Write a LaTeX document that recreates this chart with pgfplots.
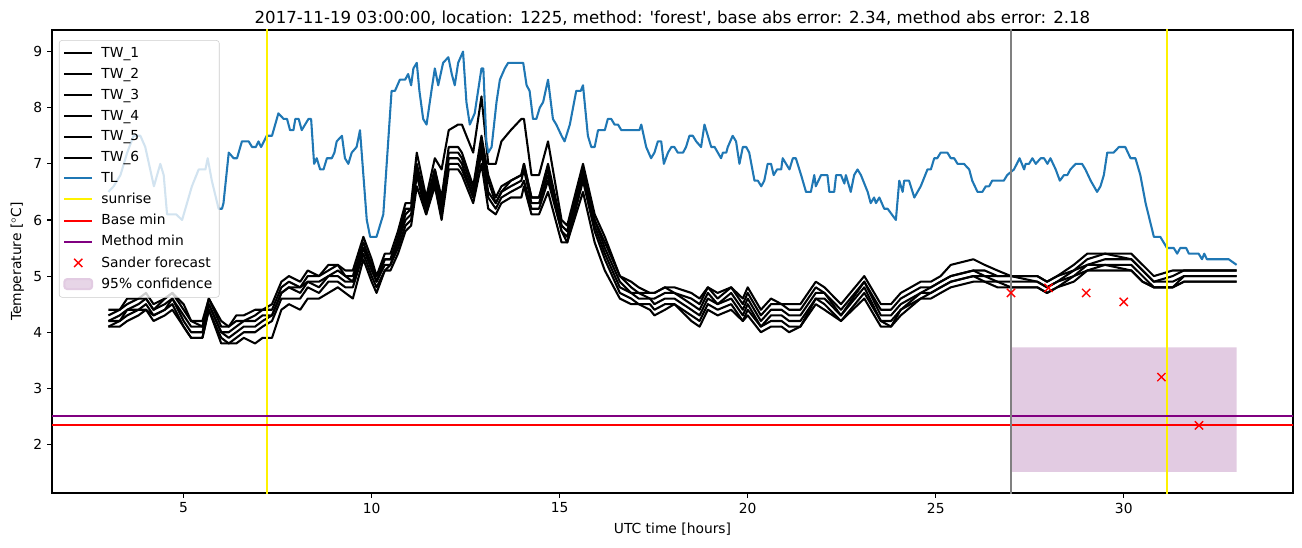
\documentclass[border=0pt]{standalone}
\usepackage{pgfplots}
\pgfplotsset{compat=1.18}
\usepackage{pgfplotstable}
\usepackage{fontspec}
\setmainfont{DejaVu Sans}[Ligatures=TeXOff]

\definecolor{tlblue}{HTML}{1F77B4}
\definecolor{mpurple}{HTML}{800080}
\definecolor{confcol}{RGB}{226,203,226}
\definecolor{legframe}{RGB}{204,204,204}

% air temperature
\pgfplotstableread{
x y
3.00 6.5
3.14 6.6
3.32 6.8
3.50 7.2
3.67 7.5
3.85 7.5
3.98 7.3
4.21 6.6
4.38 7.0
4.47 6.8
4.56 6.1
4.80 6.1
4.96 6.0
5.22 6.6
5.40 6.9
5.58 6.9
5.64 7.1
5.75 6.7
5.93 6.2
6.02 6.2
6.06 6.3
6.20 7.2
6.33 7.1
6.42 7.1
6.55 7.4
6.73 7.4
6.82 7.3
6.92 7.3
6.99 7.4
7.06 7.3
7.21 7.5
7.35 7.5
7.52 7.9
7.66 7.8
7.75 7.8
7.83 7.6
7.92 7.6
7.97 7.8
8.06 7.8
8.14 7.6
8.32 7.8
8.39 7.8
8.47 7.0
8.54 7.1
8.63 6.9
8.72 6.9
8.81 7.1
8.94 7.1
9.01 7.2
9.07 7.4
9.21 7.5
9.29 7.1
9.38 7.0
9.47 7.2
9.60 7.3
9.69 7.6
9.87 6.0
9.96 5.7
10.13 5.7
10.31 6.1
10.53 8.3
10.62 8.3
10.75 8.5
10.89 8.5
10.97 8.6
11.05 8.4
11.11 8.7
11.20 8.8
11.27 8.3
11.37 7.8
11.46 7.7
11.59 8.3
11.68 8.7
11.77 8.4
11.90 8.8
12.04 8.9
12.13 8.6
12.21 8.4
12.30 8.8
12.43 9.0
12.52 8.1
12.61 7.7
12.74 7.9
12.92 8.7
12.97 8.7
13.05 7.4
13.10 7.2
13.19 7.3
13.32 8.1
13.41 8.5
13.54 8.7
13.63 8.8
14.03 8.8
14.12 8.4
14.20 8.3
14.29 7.8
14.38 7.8
14.47 8.0
14.56 8.1
14.69 8.5
14.82 7.8
14.91 7.7
15.05 7.5
15.13 7.4
15.27 7.7
15.44 8.3
15.56 8.3
15.62 8.4
15.75 7.5
15.84 7.3
15.93 7.3
16.02 7.6
16.20 7.6
16.28 7.8
16.37 7.8
16.46 7.7
16.55 7.7
16.64 7.6
17.12 7.6
17.17 7.7
17.30 7.3
17.43 7.1
17.52 7.2
17.61 7.4
17.70 7.4
17.77 7.0
17.88 7.2
17.97 7.3
18.05 7.3
18.14 7.2
18.28 7.2
18.36 7.3
18.45 7.5
18.54 7.5
18.63 7.4
18.76 7.3
18.85 7.7
19.03 7.3
19.12 7.3
19.29 7.1
19.34 7.2
19.43 7.2
19.47 7.3
19.60 7.5
19.69 7.4
19.78 7.0
19.87 7.3
19.96 7.3
20.04 7.2
20.18 6.7
20.27 6.7
20.36 6.6
20.44 6.7
20.53 7.0
20.62 7.0
20.69 6.8
20.78 6.9
20.89 6.9
20.93 7.1
21.02 7.0
21.11 6.9
21.20 7.1
21.28 7.1
21.42 6.8
21.55 6.5
21.68 6.5
21.77 6.8
21.81 6.6
21.95 6.8
22.12 6.8
22.17 6.5
22.30 6.5
22.35 6.8
22.48 6.8
22.57 6.65
22.61 6.8
22.74 6.5
22.83 6.8
22.92 6.9
23.01 6.8
23.19 6.5
23.27 6.3
23.36 6.4
23.41 6.3
23.50 6.4
23.63 6.2
23.72 6.2
23.94 6.0
24.03 6.7
24.12 6.5
24.16 6.7
24.29 6.7
24.43 6.4
24.60 6.6
24.78 6.9
24.87 6.9
24.96 7.1
25.04 7.1
25.13 7.2
25.31 7.2
25.40 7.1
25.49 7.1
25.58 7.0
25.75 7.0
25.89 6.9
25.97 6.7
26.11 6.5
26.24 6.5
26.33 6.6
26.42 6.6
26.50 6.7
26.81 6.7
26.90 6.8
26.99 6.85
27.08 6.9
27.23 7.1
27.35 6.9
27.39 7.0
27.48 7.0
27.57 7.1
27.66 7.0
27.79 7.1
27.88 7.1
27.97 7.0
28.05 7.1
28.19 6.9
28.30 6.7
28.41 6.8
28.50 6.8
28.58 6.9
28.72 7.0
28.89 7.0
28.98 6.9
29.12 6.7
29.29 6.5
29.38 6.6
29.47 6.8
29.56 7.2
29.73 7.2
29.87 7.3
30.04 7.3
30.18 7.1
30.31 7.1
30.44 6.8
30.58 6.3
30.80 5.7
30.97 5.7
31.15 5.5
31.24 5.5
31.33 5.5
31.42 5.4
31.50 5.5
31.66 5.5
31.73 5.4
31.99 5.4
32.08 5.3
32.14 5.4
32.21 5.3
32.79 5.3
33.00 5.2
}\tl

% road surface sensors
\pgfplotstableread{
x tw1 tw2 tw3 tw4 tw5 tw6
3.0 4.4 4.3 4.2 4.2 4.1 4.1
3.3 4.4 4.4 4.3 4.2 4.2 4.1
3.5 4.6 4.5 4.4 4.4 4.3 4.2
3.8 4.6 4.6 4.5 4.4 4.4 4.3
4.0 4.7 4.6 4.6 4.5 4.4 4.4
4.2 4.5 4.4 4.4 4.3 4.3 4.2
4.5 4.6 4.6 4.5 4.4 4.4 4.3
4.7 4.7 4.7 4.6 4.6 4.5 4.4
5.0 4.5 4.4 4.3 4.2 4.1 4.1
5.2 4.2 4.2 4.1 4.0 3.9 3.9
5.5 4.2 4.1 4.1 4.0 3.9 3.9
5.67 4.6 4.6 4.5 4.5 4.4 4.4
6.0 4.2 4.1 4.0 4.0 3.9 3.8
6.2 4.1 4.1 4.0 3.9 3.8 3.8
6.4 4.3 4.2 4.1 4.0 3.9 3.8
6.6 4.3 4.2 4.2 4.1 4.0 3.9
6.9 4.4 4.3 4.2 4.1 4.0 3.8
7.1 4.4 4.4 4.3 4.2 4.1 3.9
7.35 4.5 4.4 4.3 4.3 4.2 3.9
7.6 4.9 4.8 4.7 4.7 4.6 4.4
7.8 5.0 4.9 4.8 4.8 4.6 4.5
8.1 4.9 4.8 4.8 4.7 4.6 4.4
8.3 5.1 5.0 4.9 4.9 4.8 4.6
8.6 5.0 5.0 4.9 4.8 4.7 4.6
8.85 5.2 5.1 5.0 5.0 4.9 4.7
9.1 5.2 5.2 5.1 5.0 4.9 4.8
9.3 5.1 5.0 5.0 4.9 4.8 4.7
9.5 5.1 5.0 4.9 4.9 4.8 4.6
9.78 5.7 5.6 5.5 5.5 5.4 5.3
10.0 5.3 5.2 5.2 5.1 5.0 4.9
10.13 5.0 5.0 4.9 4.9 4.8 4.7
10.35 5.4 5.3 5.3 5.2 5.1 5.1
10.5 5.4 5.3 5.3 5.2 5.2 5.1
10.7 5.8 5.7 5.6 5.6 5.5 5.4
10.9 6.3 6.2 6.1 6.0 5.9 5.8
11.05 6.3 6.2 6.2 6.1 6.0 5.9
11.2 7.2 7.0 6.9 6.9 6.8 6.6
11.45 6.4 6.3 6.3 6.2 6.1 6.1
11.68 7.1 6.9 6.9 6.8 6.7 6.6
11.86 6.9 6.4 6.3 6.2 6.1 6.0
12.05 7.6 7.3 7.2 7.1 7.0 6.9
12.3 7.7 7.3 7.2 7.1 7.0 6.9
12.4 7.7 7.2 7.1 7.0 6.9 6.8
12.7 7.2 6.6 6.5 6.4 6.4 6.3
12.92 8.2 7.5 7.4 7.3 7.2 7.0
13.1 7.0 6.8 6.7 6.5 6.4 6.2
13.3 7.0 6.4 6.3 6.3 6.2 6.1
13.45 7.4 6.6 6.5 6.5 6.4 6.3
13.7 7.6 6.7 6.7 6.6 6.5 6.4
13.98 7.8 6.8 6.8 6.7 6.6 6.4
14.05 7.8 7.0 7.0 6.9 6.7 6.6
14.25 6.8 6.4 6.4 6.3 6.2 6.1
14.45 6.8 6.4 6.4 6.3 6.2 6.1
14.69 7.4 7.0 6.9 6.8 6.7 6.5
15.05 6.0 5.9 5.9 5.8 5.8 5.6
15.2 5.9 5.8 5.8 5.7 5.6 5.6
15.62 7.0 6.9 6.8 6.8 6.7 6.5
15.93 6.1 6.0 6.0 5.9 5.8 5.6
16.2 5.7 5.6 5.5 5.4 5.3 5.1
16.6 5.0 5.0 4.9 4.8 4.7 4.6
16.9 4.9 4.8 4.7 4.7 4.6 4.5
17.1 4.8 4.7 4.7 4.6 4.5 4.5
17.4 4.7 4.7 4.6 4.6 4.5 4.4
17.52 4.7 4.7 4.6 4.5 4.4 4.3
17.8 4.8 4.8 4.7 4.6 4.5 4.4
18.05 4.8 4.7 4.7 4.6 4.5 4.5
18.5 4.7 4.6 4.5 4.4 4.3 4.2
18.72 4.6 4.5 4.4 4.3 4.2 4.1
18.94 4.8 4.8 4.7 4.6 4.5 4.4
19.2 4.7 4.6 4.5 4.5 4.4 4.3
19.56 4.8 4.8 4.7 4.6 4.5 4.4
19.87 4.6 4.5 4.4 4.3 4.2 4.2
20.0 4.8 4.7 4.6 4.5 4.4 4.3
20.35 4.4 4.3 4.2 4.1 4.1 4.0
20.62 4.6 4.5 4.4 4.3 4.2 4.1
20.9 4.5 4.5 4.4 4.3 4.2 4.1
21.1 4.5 4.4 4.3 4.2 4.1 4.0
21.4 4.5 4.4 4.3 4.2 4.1 4.1
21.81 4.9 4.8 4.7 4.6 4.6 4.5
22.04 4.8 4.7 4.7 4.6 4.5 4.4
22.48 4.5 4.4 4.3 4.3 4.2 4.2
23.1 5.0 4.9 4.9 4.8 4.7 4.6
23.54 4.5 4.4 4.3 4.2 4.2 4.1
23.81 4.5 4.4 4.3 4.2 4.1 4.1
24.07 4.7 4.6 4.5 4.4 4.4 4.3
24.6 4.9 4.8 4.7 4.7 4.6 4.6
24.87 4.9 4.8 4.8 4.7 4.7 4.6
25.13 5.0 4.9 4.9 4.8 4.8 4.7
25.4 5.2 5.0 5.0 4.9 4.9 4.8
26.0 5.3 5.1 5.1 5.0 5.0 4.9
26.3 5.2 5.1 5.0 5.0 4.9 4.9
26.64 5.1 5.0 5.0 4.9 4.9 4.8
27.0 5.0 5.0 5.0 4.9 4.8 4.8
27.7 5.0 5.0 4.9 4.9 4.8 4.8
27.96 4.9 4.9 4.8 4.8 4.7 4.7
28.23 5.0 5.0 4.9 4.9 4.8 4.8
28.67 5.2 5.1 5.1 5.0 5.0 4.9
29.03 5.4 5.3 5.2 5.2 5.1 5.1
29.5 5.4 5.4 5.3 5.2 5.2 5.1
30.2 5.4 5.3 5.3 5.2 5.1 5.1
30.5 5.2 5.1 5.1 5.0 4.9 4.9
30.8 5.0 4.9 4.9 4.8 4.8 4.8
31.3 5.1 5.0 4.9 4.8 4.8 4.8
31.6 5.1 5.1 5.0 5.0 4.9 4.9
33.0 5.1 5.1 5.0 5.0 4.9 4.9
}\tw

\pgfplotsset{legend image code/.code={\draw[#1, line width=1.5pt] (0pt,0pt) -- (20pt,0pt); \path (24pt,0pt);}}

\begin{document}
\begin{tikzpicture}
\begin{axis}[
    name=ax,
    scale only axis,
    width=12.41in, height=4.63in,
    xmin=1.5, xmax=34.5, ymin=1.135, ymax=9.385,
    xtick={5,10,...,30}, ytick={2,3,...,9},
    tick align=outside, xtick pos=bottom, ytick pos=left,
    major tick length=3.5pt,
    tick style={line width=0.8pt, black},
    axis line style={line width=0.8pt},
    /pgf/number format/assume math mode=true,
    tick label style={font=\fontsize{10}{12}\selectfont},
    label style={font=\fontsize{10}{12}\selectfont},
    title style={font=\fontsize{12}{14}\selectfont, yshift=-6pt},
    title={2017-11-19 03:00:00, location: 1225, method: 'forest', base abs error: 2.34, method abs error: 2.18},
    xlabel={UTC time [hours]},
    ylabel={Temperature [$^\circ$C]},
    legend cell align=left,
    legend style={at={(0.0056,0.978)}, anchor=north west, draw=legframe,
        rounded corners=2pt, fill=white, fill opacity=0.8, text opacity=1, draw opacity=1,
        font=\fontsize{10}{12}\selectfont, row sep=2.2pt, inner xsep=3pt, inner ysep=3pt},
    every axis plot/.append style={line width=1.5pt, line join=round},
]
\addplot[fill=confcol, draw=none, forget plot] coordinates {(27,1.51) (33,1.51) (33,3.73) (27,3.73) (27,1.51)};

\addplot[black, no marks] table[x=x, y=tw1] {\tw};
\addlegendentry{TW\_1}
\addplot[black, no marks] table[x=x, y=tw2] {\tw};
\addlegendentry{TW\_2}
\addplot[black, no marks] table[x=x, y=tw3] {\tw};
\addlegendentry{TW\_3}
\addplot[black, no marks] table[x=x, y=tw4] {\tw};
\addlegendentry{TW\_4}
\addplot[black, no marks] table[x=x, y=tw5] {\tw};
\addlegendentry{TW\_5}
\addplot[black, no marks] table[x=x, y=tw6] {\tw};
\addlegendentry{TW\_6}
\addplot[tlblue, no marks] table[x=x, y=y] {\tl};
\addlegendentry{TL}

\addplot[yellow, no marks] coordinates {(7.21,0) (7.21,10)};
\addlegendentry{sunrise}
\addplot[yellow, no marks, forget plot] coordinates {(31.15,0) (31.15,10)};
\addplot[red, no marks] coordinates {(0,2.35) (40,2.35)};
\addlegendentry{Base min}
\addplot[mpurple, no marks] coordinates {(0,2.51) (40,2.51)};
\addlegendentry{Method min}
\addplot[gray, no marks, forget plot] coordinates {(27,0) (27,10)};

\addplot[red, only marks, mark=x, mark size=4.2pt, line width=1pt,
    legend image code/.code={\draw[red, line width=1pt, mark=x, mark size=4.2pt] plot[only marks] coordinates {(10pt,0pt)}; \path (0pt,0pt) (24pt,0pt);}]
    coordinates {(27,4.70) (28,4.79) (29,4.70) (30,4.54) (31,3.20) (32,2.34)};
\addlegendentry{Sander forecast}

\addlegendimage{legend image code/.code={\fill[confcol] (0pt,-3.6pt) rectangle (20pt,3.6pt); \path (24pt,0pt);}}
\addlegendentry{95\% confidence}
\end{axis}
\pgfresetboundingbox
\path[use as bounding box] ([xshift=-0.52in,yshift=-0.54in]ax.south west) rectangle ([xshift=0.09in,yshift=0.30in]ax.north east);
\end{tikzpicture}
\end{document}
